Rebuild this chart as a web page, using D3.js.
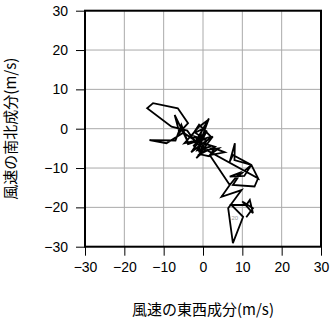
<!DOCTYPE html>
<html lang="ja">
<head>
<meta charset="UTF-8">
<title>風速ホドグラフ</title>
<script src="https://d3js.org/d3.v7.min.js"></script>
<style>
  body { margin: 0; background: #fff; }
  svg { display: block; }
  .tick text { font-family: "Liberation Sans", Arial, sans-serif; font-size: 14px; fill: #000; }
  .title { font-family: "Noto Sans CJK JP", sans-serif; font-size: 15px; fill: #000; }
</style>
</head>
<body>
<div id="chart"></div>
<script>
// wind components (m/s), in time order
const uWind = [0, -2, 1, -3, -1, 2, -4, -2, -5, -9.3, -13.6, -7, -5.5, -3.8, -7.2, -6, -3.8, -6.4, -12.7, -14.2,
  -8, -4, -1.5, 0, 1.5, -0.5, -1, 1, -2, 0.5, 2, -1.5, 1, -2.5, 0, -4.7, -1, 1.3, -2, 0.5, -3, -0.5, 2.5,
  -1.7, 0.5, -2.2, 1, 3, -0.8, 1.5, 3, 5.5, 1.7, 4, 0.9, 14, 12.3, 7.6, 6.8, 8.1, 8, 12.3,
  14, 13.1, 7.6, 9.3, 12.3, 10.5, 6.8, 9.3, 6.8, 1.7, 6.8, 4.7, 9.8, 6.4, 7.6, 10.2, 7.2, 11, 11.9, 12.7, 10, 12.7, 11];
const vWind = [0, -1, -3, -2, 1, -2, -4, -3, -1, -3.7, -2.9, -3, 1, -3.5, 3.5, -1, 1.4, 5.2, 6.5, 5.2,
  0.5, -0.5, -4, -1.5, 2.6, -1, -6, -3, -2, -5, -4.5, -5.5, -0.5, -4.5, -2.5, -3.7, 0.5, 2.2, -3.5, -1, -6, -4, -2,
  -7.5, -5.5, -3, -4, -4.6, -6.5, -7, -5, -6, -6.7, -5, -5.4, -12.6, -9.2, -6.7, -8.4, -3.7, -8, -9.2,
  -12.6, -14.7, -14.3, -11.8, -9.2, -12, -12.2, -11.2, -14.3, -6.7, -14.3, -17.3, -15.6, -20.2, -29.1, -22.4, -19.4, -19.4, -18.1, -21.5, -18.5, -20.2, -22.5];
const tickValues = [-30, -20, -10, 0, 10, 20, 30];
const pointLabel = { text: "20", u: 8.1, v: -22.7 };

const W = 331, H = 318;
const margin = { top: 10.7, right: 10, bottom: 71.3, left: 85 };
const width = W - margin.left - margin.right;
const height = H - margin.top - margin.bottom;
const fmt = d => d < 0 ? "\u2212" + Math.abs(d) : String(d);

const svg = d3.select("#chart").append("svg").attr("width", W).attr("height", H);
const g = svg.append("g").attr("transform", `translate(${margin.left},${margin.top})`);

const x = d3.scaleLinear().domain([-30, 30]).range([0, width]);
const y = d3.scaleLinear().domain([-30, 30]).range([height, 0]);

// grid
g.append("g").selectAll("line.gx").data(tickValues).join("line")
  .attr("x1", d => x(d)).attr("x2", d => x(d)).attr("y1", 0).attr("y2", height)
  .attr("stroke", "#aaa").attr("stroke-width", 1);
g.append("g").selectAll("line.gy").data(tickValues).join("line")
  .attr("y1", d => y(d)).attr("y2", d => y(d)).attr("x1", 0).attr("x2", width)
  .attr("stroke", "#aaa").attr("stroke-width", 1);

// axes
const xAxis = g.append("g").attr("transform", `translate(0,${height})`)
  .call(d3.axisBottom(x).tickValues(tickValues).tickFormat(fmt).tickSize(9).tickPadding(6));
const yAxis = g.append("g")
  .call(d3.axisLeft(y).tickValues(tickValues).tickFormat(fmt).tickSize(9).tickPadding(8));
[xAxis, yAxis].forEach(a => {
  a.select(".domain").remove();
  a.selectAll(".tick line").attr("stroke", "#000");
  a.selectAll(".tick text").attr("font-family", null).attr("font-size", null);
});

// hodograph path
const pts = uWind.map((u, i) => [u, vWind[i]]);
g.append("path").datum(pts)
  .attr("fill", "none").attr("stroke", "#000").attr("stroke-width", 1.8)
  .attr("stroke-linejoin", "miter")
  .attr("d", d3.line().x(d => x(d[0])).y(d => y(d[1])));

g.append("text")
  .attr("x", x(pointLabel.u)).attr("y", y(pointLabel.v))
  .attr("text-anchor", "middle").attr("dy", "0.35em")
  .attr("font-family", "Liberation Sans, sans-serif").attr("font-size", 6)
  .attr("fill", "#999").text(pointLabel.text);

// frame
g.append("rect").attr("width", width).attr("height", height)
  .attr("fill", "none").attr("stroke", "#000").attr("stroke-width", 2);

// titles
svg.append("text").attr("class", "title")
  .attr("x", margin.left + width / 2).attr("y", 310).attr("dy", "0.35em")
  .attr("text-anchor", "middle").text("風速の東西成分(m/s)");
svg.append("text").attr("class", "title")
  .attr("transform", `translate(11,${margin.top + height / 2}) rotate(-90)`)
  .attr("dy", "0.35em").attr("text-anchor", "middle").text("風速の南北成分(m/s)");
</script>
</body>
</html>
